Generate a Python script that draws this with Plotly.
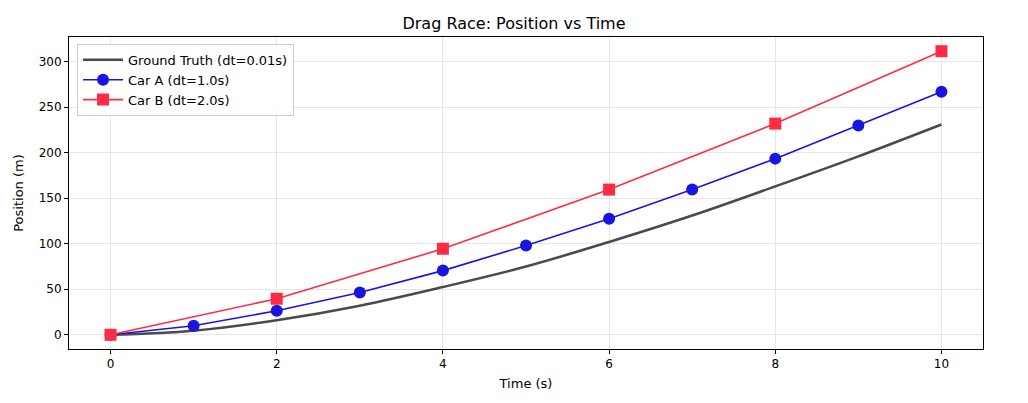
import plotly.graph_objects as go

t_truth = [0, 1, 2, 3, 4, 5, 6, 7, 8, 9, 10]
x_truth = [0, 4.5, 16, 32, 52.5, 75, 102, 131, 163, 196, 231]
t_a = [0, 1, 2, 3, 4, 5, 6, 7, 8, 9, 10]
x_a = [0, 10, 26.4, 46.5, 70.5, 98, 127.5, 159.5, 193.5, 230, 267]
t_b = [0, 2, 4, 6, 8, 10]
x_b = [0, 39.6, 94.5, 159.5, 232, 311.5]
x_ticks = [0, 2, 4, 6, 8, 10]
y_ticks = [0, 50, 100, 150, 200, 250, 300]

FONT = "DejaVu Sans"
fig = go.Figure()
fig.add_trace(go.Scatter(x=t_truth, y=x_truth, mode="lines", name="Ground Truth (dt=0.01s)",
                         line=dict(color="#4a4a4a", width=2.5, shape="spline", smoothing=1.0)))
fig.add_trace(go.Scatter(x=t_a, y=x_a, mode="lines+markers", name="Car A (dt=1.0s)",
                         line=dict(color="#1a14e0", width=1.6),
                         marker=dict(symbol="circle", size=12, color="#1a14e0")))
fig.add_trace(go.Scatter(x=t_b, y=x_b, mode="lines+markers", name="Car B (dt=2.0s)",
                         line=dict(color="#ff2b44", width=1.6),
                         marker=dict(symbol="square", size=12, color="#ff2b44")))

axis_common = dict(showline=True, linecolor="black", linewidth=1, mirror=True,
                   ticks="outside", ticklen=4, tickcolor="black", tickwidth=1,
                   showgrid=True, gridcolor="#e6e6e6", gridwidth=1, zeroline=False,
                   automargin=False,
                   tickfont=dict(family=FONT, size=12, color="black"))
fig.update_xaxes(range=[-0.5, 10.5], tickvals=x_ticks,
                 title=dict(text="Time (s)", font=dict(family=FONT, size=13, color="black"), standoff=8),
                 **axis_common)
fig.update_yaxes(range=[-15.6, 327.1], tickvals=y_ticks,
                 title=dict(text="Position (m)", font=dict(family=FONT, size=13, color="black"), standoff=12),
                 **axis_common)
fig.update_layout(
    width=1012, height=387,
    margin=dict(l=61, r=37, t=29, b=46),
    paper_bgcolor="white", plot_bgcolor="white",
    title=dict(text="Drag Race: Position vs Time", x=0.5, xanchor="center", y=0.961, yanchor="middle",
               font=dict(family=FONT, size=16, color="black")),
    font=dict(family=FONT, size=13, color="black"),
    legend=dict(x=0.0088, y=0.978, xanchor="left", yanchor="top",
                bgcolor="rgba(255,255,255,0.85)", bordercolor="#cccccc", borderwidth=1,
                font=dict(family=FONT, size=13, color="black"), tracegroupgap=0, itemwidth=40),
    showlegend=True,
)
fig.write_html("out.html")
